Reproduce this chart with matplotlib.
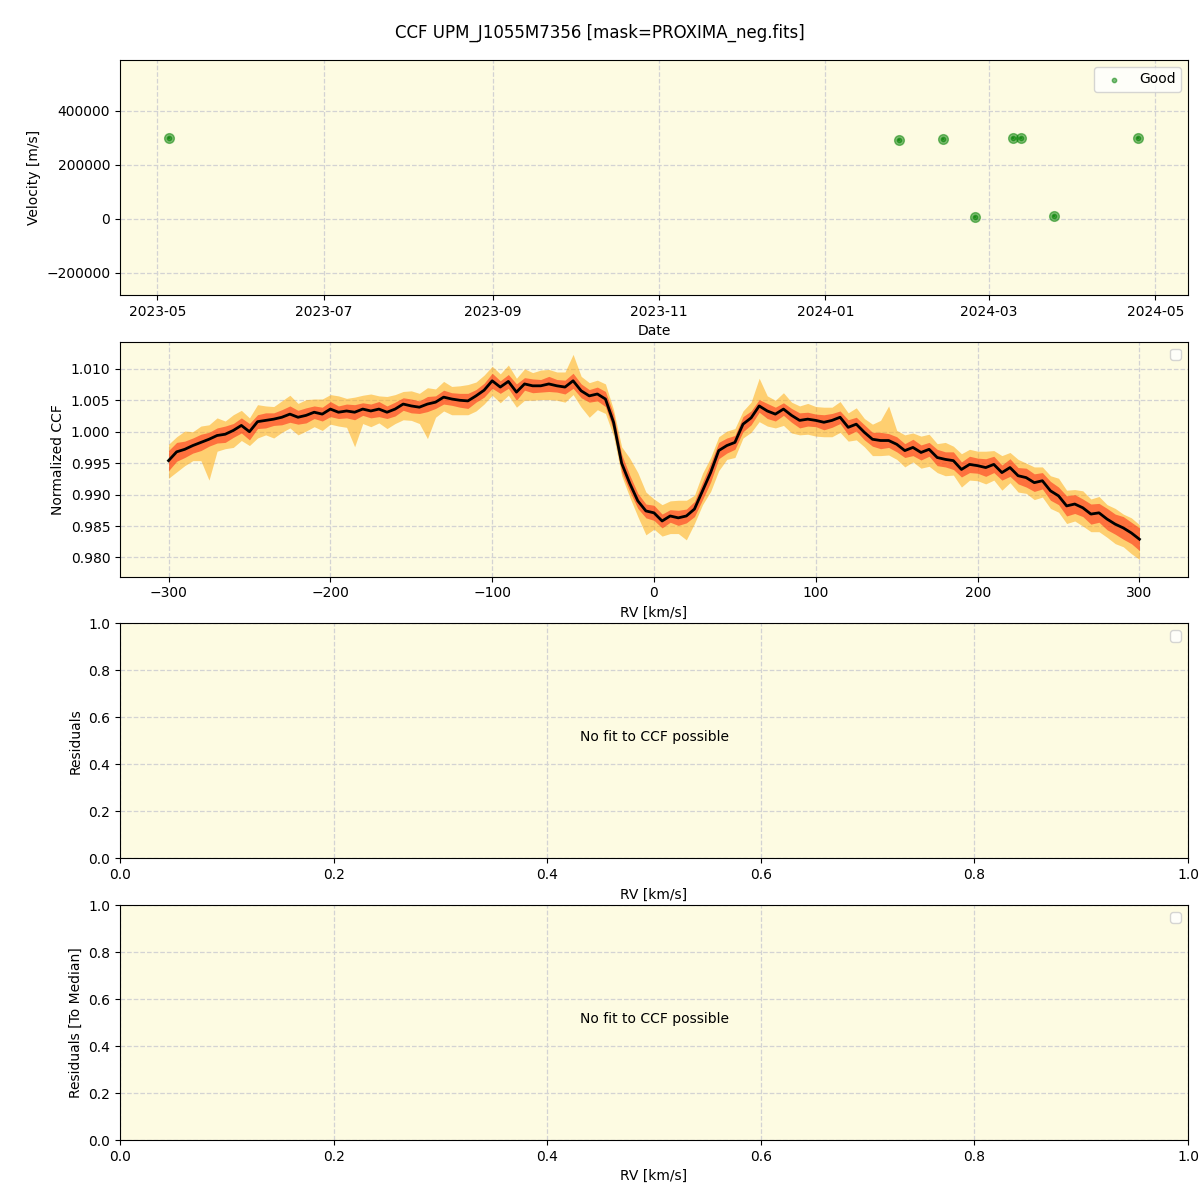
import numpy as np
import matplotlib
matplotlib.use("Agg")
import matplotlib.pyplot as plt
import matplotlib.dates as mdates

# --- velocity time series (top panel) ---
obs_dates = np.array(['2023-05-05T10', '2024-01-28T00', '2024-02-13T00', '2024-02-24T20',
                      '2024-03-09T20', '2024-03-12T16', '2024-03-24T20', '2024-04-24T16'],
                     dtype='datetime64[h]')
velocity = [299000, 292600, 296300, 6300, 299000, 299000, 11100, 299000]
velocity_err = [3000, 3000, 3000, 3000, 3000, 3000, 3000, 3000]
date_range = np.array(['2023-04-17T08', '2024-05-12T23'], dtype='datetime64[h]')

# --- CCF profile, rv grid in 5 km/s steps ---
rv = np.arange(-300, 301, 5)
ccf_median = [
    0.9954, 0.9968, 0.9972, 0.9978, 0.9983, 0.9988, 0.9994, 0.9996, 1.0002, 1.0010,
    1.0000, 1.0016, 1.0018, 1.0020, 1.0023, 1.0028, 1.0023, 1.0026, 1.0031, 1.0028,
    1.0036, 1.0031, 1.0033, 1.0031, 1.0036, 1.0033, 1.0036, 1.0031, 1.0036, 1.0044,
    1.0041, 1.0039, 1.0044, 1.0047, 1.0055, 1.0052, 1.0050, 1.0049, 1.0057, 1.0066,
    1.0081, 1.0071, 1.0080, 1.0063, 1.0076, 1.0073, 1.0073, 1.0076, 1.0073, 1.0071,
    1.0081, 1.0065, 1.0057, 1.0060, 1.0052, 1.0015, 0.9950, 0.9918, 0.9890, 0.9874,
    0.9871, 0.9858, 0.9866, 0.9863, 0.9866, 0.9877, 0.9906, 0.9935, 0.9970, 0.9978,
    0.9983, 1.0012, 1.0022, 1.0041, 1.0033, 1.0028, 1.0036, 1.0026, 1.0018, 1.0020,
    1.0018, 1.0015, 1.0018, 1.0023, 1.0007, 1.0012, 0.9999, 0.9988, 0.9986, 0.9986,
    0.9980, 0.9970, 0.9975, 0.9967, 0.9972, 0.9959, 0.9956, 0.9954, 0.9940, 0.9948,
    0.9946, 0.9943, 0.9948, 0.9935, 0.9943, 0.9930, 0.9927, 0.9919, 0.9922, 0.9906,
    0.9898, 0.9882, 0.9885, 0.9879, 0.9869, 0.9871, 0.9861, 0.9853, 0.9847, 0.9839,
    0.9829,
]
# half width of the 16-84 percentile band (units of 1e-3)
inner_hw = [
    1.6, 1.5, 1.3, 1.2, 1.3, 1.1, 1.2, 1.3, 1.1, 1.2,
    1.3, 1.1, 1.2, 1.0, 1.2, 1.3, 1.1, 1.2, 1.0, 1.1,
    1.2, 1.0, 1.1, 1.2, 1.0, 1.1, 1.2, 1.0, 1.1, 1.0,
    1.1, 1.0, 1.2, 1.0, 1.1, 1.0, 1.1, 1.2, 1.0, 1.1,
    1.2, 1.0, 1.1, 1.3, 1.0, 1.1, 1.0, 1.2, 1.0, 1.1,
    1.2, 1.1, 1.0, 1.1, 1.2, 1.3, 1.4, 1.3, 1.2, 1.1,
    1.2, 1.1, 1.0, 1.2, 1.1, 1.2, 1.4, 1.5, 1.3, 1.2,
    1.1, 1.2, 1.1, 1.0, 1.2, 1.1, 1.0, 1.1, 1.2, 1.1,
    1.0, 1.2, 1.1, 1.0, 1.2, 1.1, 1.2, 1.1, 1.3, 1.1,
    1.2, 1.1, 1.3, 1.2, 1.1, 1.3, 1.2, 1.4, 1.2, 1.3,
    1.2, 1.4, 1.3, 1.2, 1.4, 1.3, 1.5, 1.4, 1.3, 1.5,
    1.4, 1.6, 1.5, 1.4, 1.6, 1.5, 1.7, 1.6, 1.8, 1.7,
    1.8,
]
# distance of the 95th / 5th percentiles from the median (units of 1e-3)
outer_up = [
    2.6, 2.4, 2.9, 2.2, 2.6, 2.3, 2.8, 2.1, 2.5, 2.4,
    2.2, 2.7, 2.3, 2.0, 2.6, 3.0, 2.2, 2.5, 2.1, 2.4,
    2.3, 2.6, 2.0, 2.4, 2.2, 2.7, 2.1, 2.5, 2.3, 2.0,
    2.4, 2.2, 2.6, 2.1, 2.5, 2.0, 2.3, 2.6, 2.2, 2.4,
    2.3, 2.1, 2.6, 2.2, 2.4, 2.1, 2.5, 2.3, 2.2, 2.4,
    4.2, 2.3, 2.1, 2.2, 2.4, 2.0, 2.6, 4.0, 4.5, 3.0,
    2.2, 2.6, 2.4, 2.8, 2.5, 2.2, 2.8, 2.4, 2.2, 2.3,
    2.2, 2.1, 2.5, 4.4, 2.4, 2.2, 2.6, 2.1, 2.3, 2.5,
    2.2, 2.4, 2.1, 2.5, 2.3, 2.6, 2.2, 2.4, 3.2, 5.5,
    2.2, 2.5, 2.3, 2.6, 2.4, 2.2, 2.7, 2.3, 2.5, 2.4,
    2.3, 2.6, 2.2, 2.7, 2.4, 2.6, 2.3, 2.5, 2.2, 2.4,
    2.8, 2.5, 2.3, 2.7, 2.4, 2.6, 2.3, 2.5, 2.2, 2.4,
    2.3,
]
outer_dn = [
    2.8, 3.2, 2.6, 2.4, 2.9, 6.5, 2.5, 2.3, 2.7, 2.4,
    2.2, 2.6, 2.3, 3.0, 2.4, 2.2, 2.8, 2.5, 2.3, 2.6,
    2.4, 2.2, 2.6, 5.5, 2.3, 2.5, 2.2, 2.6, 2.3, 2.5,
    2.3, 2.6, 5.5, 2.4, 2.2, 2.5, 2.3, 2.2, 2.4, 2.2,
    2.3, 2.5, 2.2, 2.4, 2.6, 2.3, 2.2, 2.5, 2.3, 2.4,
    2.2, 2.6, 3.4, 2.5, 2.3, 2.2, 2.0, 2.2, 2.5, 3.8,
    2.6, 2.4, 2.8, 2.5, 3.8, 2.3, 2.2, 3.0, 3.2, 2.2,
    2.4, 2.2, 2.3, 2.5, 2.4, 2.2, 2.6, 2.8, 2.3, 2.4,
    2.5, 2.3, 2.6, 2.4, 2.2, 2.5, 2.3, 2.6, 2.4, 2.3,
    2.4, 2.6, 2.3, 2.5, 2.7, 2.4, 2.6, 2.3, 2.8, 2.5,
    2.4, 2.6, 2.5, 2.8, 2.4, 2.6, 2.5, 2.7, 2.6, 2.8,
    2.6, 2.8, 2.7, 2.9, 2.8, 3.0, 2.9, 3.1, 3.0, 3.3,
    3.2,
]

title = "CCF UPM_J1055M7356 [mask=PROXIMA_neg.fits]"
bg = "#fdfbe2"


def style_axis(ax):
    ax.set_facecolor(bg)
    ax.grid(True, color="lightgray", linestyle="--", linewidth=0.9)
    ax.set_axisbelow(True)


def main():
    med = np.array(ccf_median)
    p16 = med - np.array(inner_hw) * 1e-3
    p84 = med + np.array(inner_hw) * 1e-3
    p5 = med - np.array(outer_dn) * 1e-3
    p95 = med + np.array(outer_up) * 1e-3

    fig, ax = plt.subplots(4, 1, figsize=(12, 12), dpi=100)
    fig.subplots_adjust(left=0.1, right=0.99, top=0.95, bottom=0.05, hspace=0.2)
    fig.suptitle(title, fontsize=12)

    # velocity vs date
    style_axis(ax[0])
    ax[0].errorbar(obs_dates, velocity, yerr=velocity_err, fmt="o", color="green",
                   alpha=0.5, ms=7)
    ax[0].scatter(obs_dates, velocity, color="green", alpha=0.5, s=10, label="Good")
    ax[0].set_xlim(date_range[0], date_range[1])
    ax[0].set_ylim(-281500, 589000)
    ax[0].xaxis.set_major_locator(mdates.MonthLocator(bymonth=[1, 3, 5, 7, 9, 11]))
    ax[0].xaxis.set_major_formatter(mdates.DateFormatter("%Y-%m"))
    ax[0].set_xlabel("Date")
    ax[0].set_ylabel("Velocity [m/s]")
    ax[0].legend(loc="upper right")

    # CCF
    style_axis(ax[1])
    ax[1].fill_between(rv, p5, p95, color="orange", alpha=0.5, linewidth=0)
    ax[1].fill_between(rv, p16, p84, color="red", alpha=0.45, linewidth=0)
    ax[1].plot(rv, med, color="black", linewidth=2)
    ax[1].set_xlim(-330, 330)
    ax[1].set_ylim(0.97697, 1.01431)
    ax[1].set_xlabel("RV [km/s]")
    ax[1].set_ylabel("Normalized CCF")
    ax[1].legend(handles=[], loc="upper right")

    # residual panels, nothing to fit
    for a, lab in zip(ax[2:], ["Residuals", "Residuals [To Median]"]):
        style_axis(a)
        a.text(0.5, 0.5, "No fit to CCF possible", ha="center", transform=a.transAxes)
        a.set_xlim(0, 1)
        a.set_ylim(0, 1)
        a.set_xlabel("RV [km/s]")
        a.set_ylabel(lab)
        a.legend(handles=[], loc="upper right")

    fig.savefig("out.png")


if __name__ == "__main__":
    main()
